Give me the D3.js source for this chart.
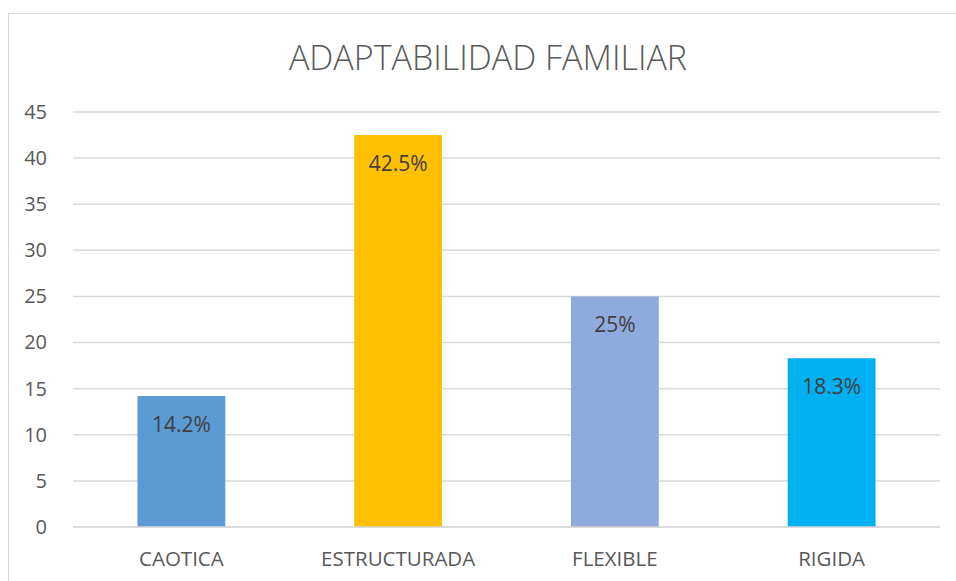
<!DOCTYPE html>
<html>
<head>
<meta charset="utf-8">
<script src="https://cdn.jsdelivr.net/npm/d3@7"></script>
<style>
  body { margin: 0; background: #fff; }
  text { font-family: "Open Sans", sans-serif; }
</style>
</head>
<body>
<div id="chart"></div>
<script>
// data
var categories = ["CAOTICA", "ESTRUCTURADA", "FLEXIBLE", "RIGIDA"];
var values = [14.2, 42.5, 25, 18.3];
var labels = ["14.2%", "42.5%", "25%", "18.3%"];
var colors = ["#5B9BD5", "#FFC000", "#8FAADC", "#00B0F0"];
var yTicks = [0, 5, 10, 15, 20, 25, 30, 35, 40, 45];

var svgWidth = 956;
var svgHeight = 581;

var margin = { top: 112, right: 16, bottom: 54, left: 73 };
var width = svgWidth - margin.left - margin.right;
var height = svgHeight - margin.top - margin.bottom;

var svg = d3.select("#chart")
    .append("svg")
    .attr("width", svgWidth)
    .attr("height", svgHeight);

// chart frame
svg.append("rect")
    .attr("x", 8.5)
    .attr("y", 13.5)
    .attr("width", 960)
    .attr("height", 600)
    .attr("fill", "none")
    .attr("stroke", "#d9d9d9");

var chartGroup = svg.append("g")
    .attr("transform", `translate(${margin.left},${margin.top})`);

var xScale = d3.scaleBand()
    .domain(categories)
    .range([0, width])
    .padding(0);

var yScale = d3.scaleLinear()
    .domain([0, 45])
    .range([height, 0]);

// gridlines
chartGroup.selectAll(".grid")
    .data(yTicks)
    .enter()
    .append("line")
    .attr("x1", 0)
    .attr("x2", width)
    .attr("y1", d => yScale(d))
    .attr("y2", d => yScale(d))
    .attr("stroke", "#d9d9d9")
    .attr("stroke-width", 1.5);

// y axis labels
var leftAxis = d3.axisLeft(yScale).tickValues(yTicks).tickSize(0).tickPadding(26);
var yAxisG = chartGroup.append("g").call(leftAxis);
yAxisG.select(".domain").remove();
yAxisG.selectAll("text")
    .attr("fill", "#595959")
    .style("font-family", "Open Sans")
    .style("font-size", "20px");

// x axis labels
var bottomAxis = d3.axisBottom(xScale).tickSize(0).tickPadding(24);
var xAxisG = chartGroup.append("g")
    .attr("transform", `translate(0, ${height})`)
    .call(bottomAxis);
xAxisG.select(".domain").remove();
xAxisG.selectAll("text")
    .attr("fill", "#595959")
    .style("font-family", "Open Sans")
    .style("font-size", "20.5px");

// bars
var barW = xScale.bandwidth() * 0.405;
chartGroup.selectAll(".bar")
    .data(values)
    .enter()
    .append("rect")
    .attr("x", (d, i) => xScale(categories[i]) + (xScale.bandwidth() - barW) / 2)
    .attr("y", d => yScale(d))
    .attr("width", barW)
    .attr("height", d => height - yScale(d))
    .attr("fill", (d, i) => colors[i]);

// baseline
chartGroup.append("line")
    .attr("x1", 0)
    .attr("x2", width)
    .attr("y1", height)
    .attr("y2", height)
    .attr("stroke", "#d9d9d9")
    .attr("stroke-width", 1.5);

// value labels
chartGroup.selectAll(".lbl")
    .data(values)
    .enter()
    .append("text")
    .attr("x", (d, i) => xScale(categories[i]) + xScale.bandwidth() / 2)
    .attr("y", d => yScale(d) + 36)
    .attr("text-anchor", "middle")
    .attr("fill", "#404040")
    .style("font-size", "21px")
    .text((d, i) => labels[i]);

// title
svg.append("text")
    .attr("x", 488)
    .attr("y", 70)
    .attr("text-anchor", "middle")
    .attr("fill", "#595959")
    .style("font-size", "34px")
    .style("font-weight", "300")
    .text("ADAPTABILIDAD FAMILIAR");
</script>
</body>
</html>
